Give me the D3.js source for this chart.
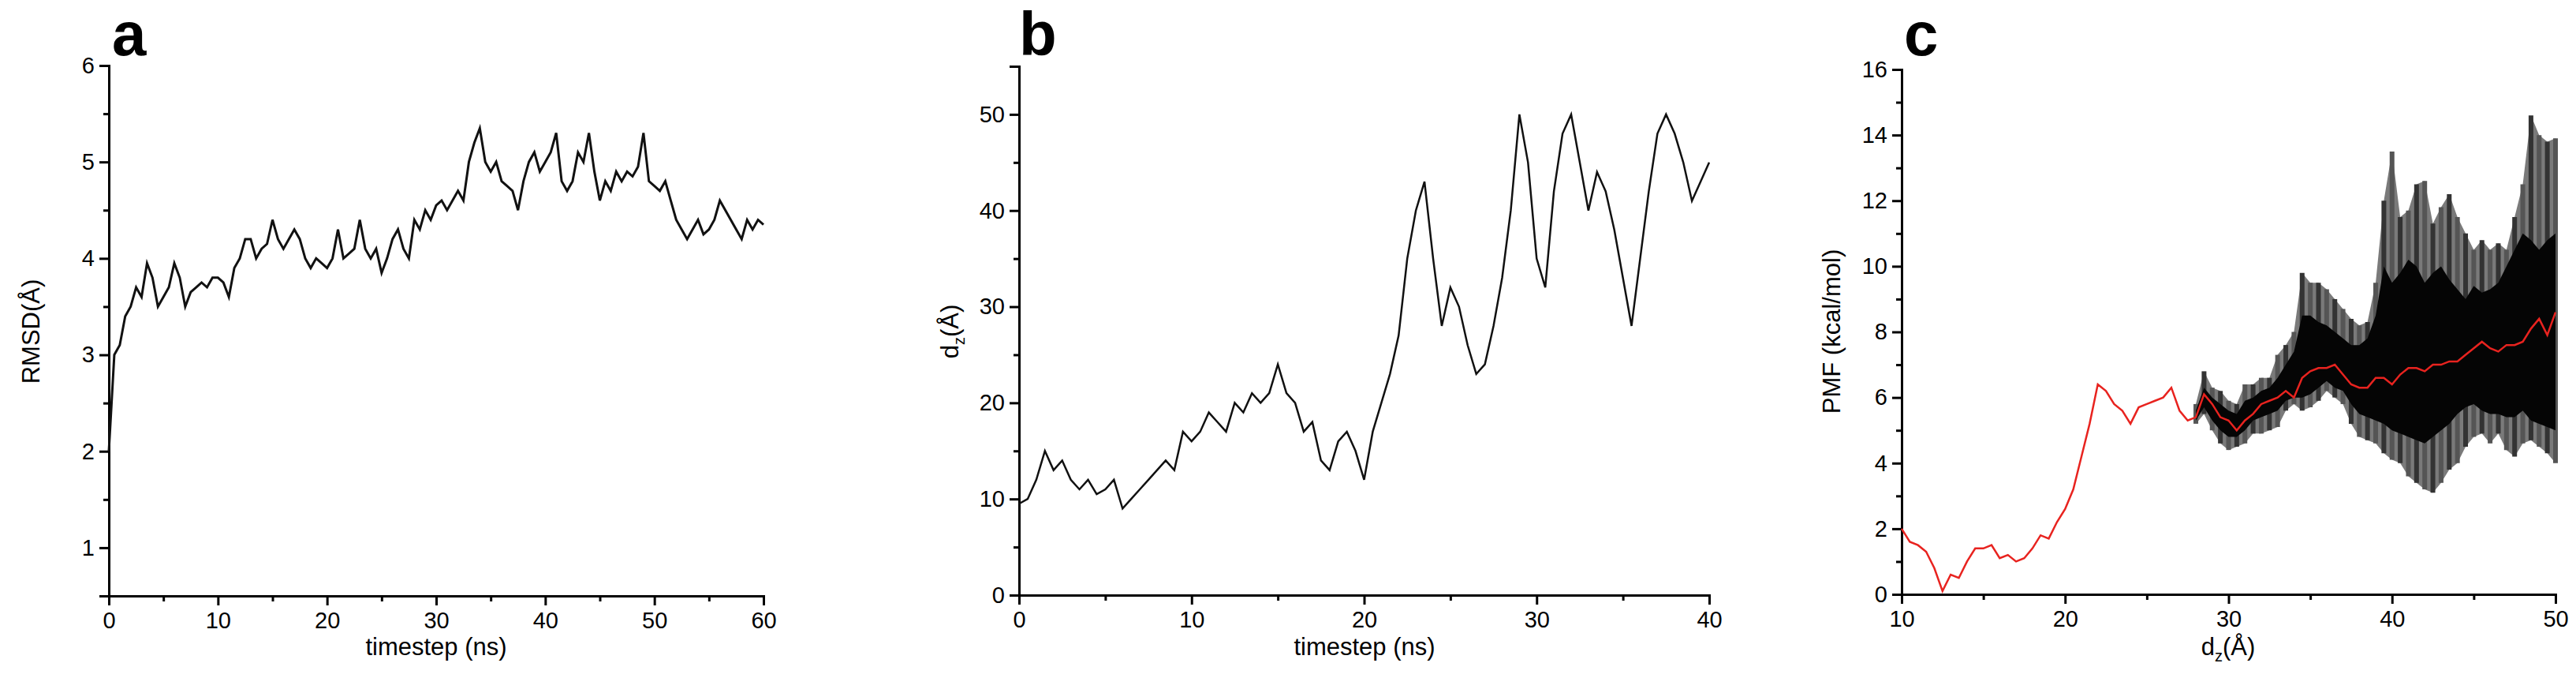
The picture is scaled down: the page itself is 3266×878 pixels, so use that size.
<!DOCTYPE html><html><head><meta charset="utf-8"><script src="https://cdn.jsdelivr.net/npm/d3@7"></script>
<style>body{margin:0;background:#fff}text{font-family:"Liberation Sans",Arial,sans-serif}</style></head><body>
<svg id="s" width="3266" height="878"></svg>
<script>
const rmsdT=d3.range(0,60.01,0.5);
const rmsd=[2.0,3.0,3.1,3.4,3.5,3.7,3.6,3.95,3.8,3.5,3.6,3.7,3.95,3.8,3.5,3.65,3.7,3.75,3.7,3.8,3.8,3.75,3.6,3.9,4.0,4.2,4.2,4.0,4.1,4.15,4.4,4.2,4.1,4.2,4.3,4.2,4.0,3.9,4.0,3.95,3.9,4.0,4.3,4.0,4.05,4.1,4.4,4.1,4.0,4.1,3.85,4.0,4.2,4.3,4.1,4.0,4.4,4.3,4.5,4.4,4.55,4.6,4.5,4.6,4.7,4.6,5.0,5.2,5.35,5.0,4.9,5.0,4.8,4.75,4.7,4.5,4.8,5.0,5.1,4.9,5.0,5.1,5.3,4.8,4.7,4.8,5.1,5.0,5.3,4.9,4.6,4.8,4.7,4.9,4.8,4.9,4.85,4.95,5.3,4.8,4.75,4.7,4.8,4.6,4.4,4.3,4.2,4.3,4.4,4.25,4.3,4.4,4.6,4.5,4.4,4.3,4.2,4.4,4.3,4.4,4.35];
const dzT=d3.range(0,40.01,0.5);
const dz=[9.5,10,12,15,13,14,12,11,12,10.5,11,12,9,10,11,12,13,14,13,17,16,17,19,18,17,20,19,21,20,21,24,21,20,17,18,14,13,16,17,15,12,17,20,23,27,35,40,43,35,28,32,30,26,23,24,28,33,40,50,45,35,32,42,48,50,45,40,44,42,38,33,28,35,42,48,50,48,45,41,43,45];
const pmfX=d3.range(10,50.01,0.5);
const pmf=[2.0,1.6,1.5,1.3,0.8,0.1,0.6,0.5,1.0,1.4,1.4,1.5,1.1,1.2,1.0,1.1,1.4,1.8,1.7,2.2,2.6,3.2,4.2,5.2,6.4,6.2,5.8,5.6,5.2,5.7,5.8,5.9,6.0,6.3,5.6,5.3,5.4,6.1,5.8,5.4,5.3,5.0,5.3,5.5,5.8,5.9,6.0,6.2,6.0,6.6,6.8,6.9,6.9,7.0,6.7,6.4,6.3,6.3,6.6,6.6,6.4,6.7,6.9,6.9,6.8,7.0,7.0,7.1,7.1,7.3,7.5,7.7,7.5,7.4,7.6,7.6,7.7,8.1,8.4,7.9,8.6];
const bandX=d3.range(28,50.01,0.5);
const outerUp=[5.8,6.8,6.3,6.2,5.9,5.8,6.4,6.4,6.6,6.6,7.3,7.6,8.0,9.8,9.5,9.5,9.3,9.0,8.7,8.4,8.2,8.3,9.5,12.0,13.5,11.5,11.7,12.5,12.6,11.3,11.8,12.2,11.5,11.0,10.5,10.8,10.5,10.7,10.5,11.5,12.5,14.6,14.0,13.8,13.9];
const outerLo=[5.2,5.5,5.0,4.6,4.4,4.5,4.6,4.9,4.9,5.0,5.1,5.6,5.8,5.6,5.7,5.9,6.2,6.0,5.8,5.2,4.8,4.7,4.6,4.3,4.1,4.0,3.6,3.4,3.2,3.1,3.4,3.8,4.0,4.5,4.8,4.9,4.6,4.9,4.4,4.2,4.6,4.7,4.5,4.3,4.0];
const innerUp=[5.6,6.3,6.0,5.8,5.6,5.5,5.9,6.0,6.2,6.3,6.6,7.0,7.4,8.5,8.5,8.3,8.2,8.0,7.8,7.6,7.6,7.8,8.5,10.0,9.5,9.8,10.2,10.0,9.5,9.8,10.0,9.6,9.3,9.0,9.4,9.2,9.3,9.5,10.0,10.5,11.0,10.8,10.5,10.8,11.0];
const innerLo=[5.3,5.7,5.3,5.0,4.8,4.8,5.0,5.3,5.4,5.5,5.6,5.9,6.0,6.0,6.1,6.3,6.5,6.3,6.2,5.8,5.5,5.4,5.3,5.2,5.0,4.9,4.8,4.7,4.6,4.8,5.0,5.2,5.5,5.7,5.8,5.6,5.5,5.5,5.4,5.4,5.6,5.3,5.2,5.1,5.0];

const svg=d3.select("#s");
function panel(o){
  const x=d3.scaleLinear().domain(o.xd).range(o.xr), y=d3.scaleLinear().domain(o.yd).range(o.yr);
  const g=svg.append("g");
  g.append("g").attr("transform",`translate(0,${o.yr[0]})`).call(d3.axisBottom(x).tickValues(o.xt).tickSize(12).tickPadding(8).tickFormat(d3.format("d")));
  g.append("g").attr("transform",`translate(0,${o.yr[0]})`).call(d3.axisBottom(x).tickValues(o.xm).tickSize(7).tickFormat(""));
  g.append("g").attr("transform",`translate(${o.xr[0]},0)`).call(d3.axisLeft(y).tickValues(o.yt).tickSize(12).tickPadding(6).tickFormat(d3.format("d")));
  g.append("g").attr("transform",`translate(${o.xr[0]},0)`).call(d3.axisLeft(y).tickValues(o.ym).tickSize(7).tickFormat(""));
  g.selectAll(".domain").attr("stroke","#000").attr("stroke-width",3);
  g.selectAll(".tick line").attr("stroke","#000").attr("stroke-width",3);
  g.selectAll(".tick text").attr("font-size",29).attr("fill","#000");
  g.append("text").attr("x",o.lx).attr("y",70).attr("font-size",78).attr("font-weight","bold").text(o.lab);
  return {x,y,g};
}
function dzLabel(sel){
  sel.append("tspan").text("d");
  sel.append("tspan").attr("font-size",20).attr("dy",8).text("z");
  sel.append("tspan").attr("dy",-8).text("(Å)");
}
// a
let p=panel({xd:[0,60],xr:[138,968],yd:[0.5,6],yr:[755,83],xt:d3.range(0,61,10),xm:d3.range(5,60,10),yt:[1,2,3,4,5,6],ym:[1.5,2.5,3.5,4.5,5.5],lab:"a",lx:142});
p.g.append("path").attr("d",d3.line().x((d,i)=>p.x(rmsdT[i])).y(d=>p.y(d))(rmsd)).attr("fill","none").attr("stroke","#111").attr("stroke-width",3);
p.g.append("text").attr("x",553).attr("y",830).attr("text-anchor","middle").attr("font-size",31).text("timestep (ns)");
p.g.append("text").attr("transform","translate(50,420) rotate(-90)").attr("text-anchor","middle").attr("font-size",31).text("RMSD(Å)");
// b
p=panel({xd:[0,40],xr:[1292,2167],yd:[0,55],yr:[754,84],xt:d3.range(0,41,10),xm:d3.range(5,40,10),yt:[0,10,20,30,40,50],ym:[5,15,25,35,45],lab:"b",lx:1292});
p.g.append("path").attr("d",d3.line().x((d,i)=>p.x(dzT[i])).y(d=>p.y(d))(dz)).attr("fill","none").attr("stroke","#111").attr("stroke-width",2.5);
p.g.append("text").attr("x",1730).attr("y",830).attr("text-anchor","middle").attr("font-size",31).text("timestep (ns)");
p.g.append("text").attr("transform","translate(1215,420) rotate(-90)").attr("text-anchor","middle").attr("font-size",31).call(dzLabel);
// c
const c=panel({xd:[10,50],xr:[2411,3240],yd:[0,16],yr:[753,88],xt:[10,20,30,40,50],xm:[15,25,35,45],yt:d3.range(0,17,2),ym:d3.range(1,16,2),lab:"c",lx:2414});
c.g.insert("path",":first-child").attr("d",d3.area().x((d,i)=>c.x(bandX[i])).y0((d,i)=>c.y(outerLo[i])).y1(d=>c.y(d))(outerUp)).attr("fill","#7a7a7a");
c.g.selectAll(".vl").data(outerUp).join("line").attr("x1",(d,i)=>c.x(bandX[i])).attr("x2",(d,i)=>c.x(bandX[i])).attr("y1",d=>c.y(d)).attr("y2",(d,i)=>c.y(outerLo[i])).attr("stroke",(d,i)=>i%2?"#333":"#555").attr("stroke-width",6);
c.g.append("path").attr("d",d3.area().x((d,i)=>c.x(bandX[i])).y0((d,i)=>c.y(innerLo[i])).y1(d=>c.y(d))(innerUp)).attr("fill","#050505");
c.g.append("path").attr("d",d3.line().x((d,i)=>c.x(pmfX[i])).y(d=>c.y(d))(pmf)).attr("fill","none").attr("stroke","#e8231f").attr("stroke-width",2.5);
c.g.append("text").attr("x",2825).attr("y",830).attr("text-anchor","middle").attr("font-size",31).call(dzLabel);
c.g.append("text").attr("transform","translate(2333,420) rotate(-90)").attr("text-anchor","middle").attr("font-size",31).text("PMF (kcal/mol)");
</script></body></html>
